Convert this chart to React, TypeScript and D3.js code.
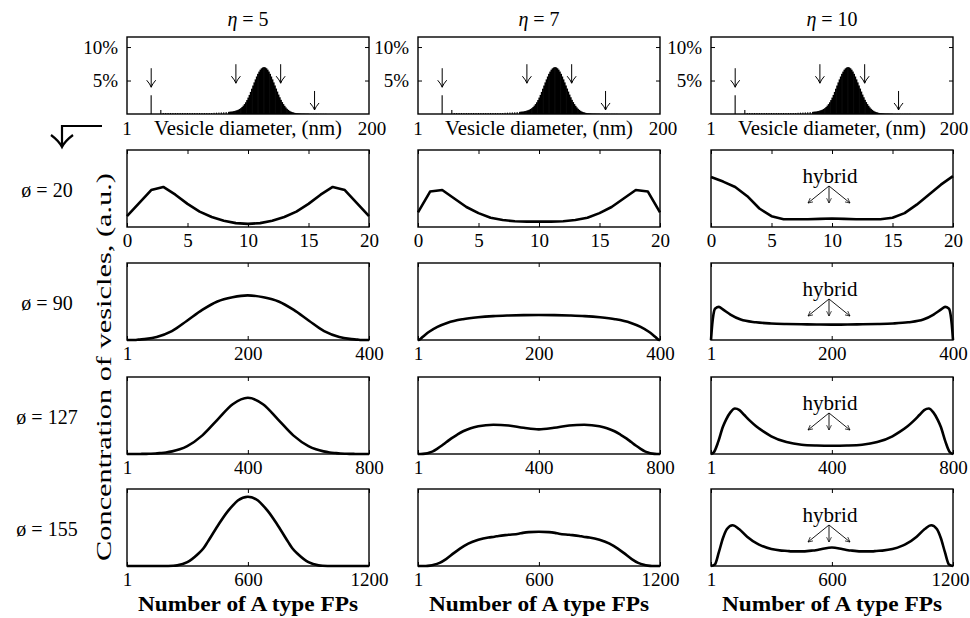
import React, { useEffect, useRef } from "react";
import * as d3 from "d3";

// column / row headings
const ETA_LABELS = ["5", "7", "10"];
const PHI_LABELS = ["20", "90", "127", "155"];
const ROW_MIN = [0, 1, 1, 1];
const ROW_MAX = [20, 400, 800, 1200];
const ROW_TICKS = [
  [0, 5, 10, 15, 20],
  [1, 200, 400],
  [1, 400, 800],
  [1, 600, 1200],
];

// vesicle diameter histogram (same in every column), % of vesicles
const HIST_D = [
  20, 28, 30, 32, 34, 36, 38, 40, 42, 44, 46, 48, 50, 52, 54, 56, 58, 60, 62, 64, 66, 68, 70, 72, 74, 76, 78, 80, 82,
  84, 85, 86, 87, 88, 89, 90, 91, 92, 93, 94, 95, 96, 97, 98, 99, 100, 101, 102, 103, 104, 105, 106, 107, 108, 109,
  110, 111, 112, 113, 114, 115, 116, 117, 118, 119, 120, 121, 122, 123, 124, 125, 126, 127, 128, 129, 130, 131, 132,
  133, 134, 135, 136, 137, 138, 139, 140, 141, 142, 143, 144, 145, 146, 147, 148, 149, 150, 152, 154, 156, 158, 160,
  162, 164,
];
const HIST_PCT = [
  2.8, 0.6, 0.15, 0.15, 0.15, 0.15, 0.15, 0.15, 0.15, 0.15, 0.15, 0.15, 0.15, 0.15, 0.15, 0.15, 0.15, 0.15, 0.15,
  0.15, 0.15, 0.15, 0.15, 0.18, 0.2, 0.22, 0.24, 0.26, 0.29,
  0.32, 0.34, 0.36, 0.38, 0.42, 0.46, 0.52, 0.58, 0.66, 0.76, 0.88, 1.05, 1.25, 1.48, 1.75, 2.08, 2.45, 2.85, 3.3,
  3.78, 4.25, 4.72, 5.17, 5.6, 6.0, 6.33, 6.62, 6.82, 6.95, 7.0, 6.96, 6.83, 6.62, 6.34, 6.0, 5.6, 5.17, 4.72, 4.26,
  3.8, 3.35, 2.9, 2.5, 2.12, 1.78, 1.48, 1.22, 0.98, 0.78, 0.62, 0.48, 0.38, 0.3, 0.24, 0.19, 0.15, 0.12, 0.1, 0.08,
  0.07, 0.06, 0.05, 0.05, 0.04, 0.04, 0.04, 0.03, 0.03, 0.03, 0.03, 0.02, 0.02, 0.02, 0.02, 0.02,
];
// arrows mark the four diameters of the rows below
const HIST_ARROW_D = [20, 90, 127, 155];
const HIST_ARROW_TIP = [4.0, 4.6, 4.6, 0.6];

// row 1 (diameter 20)
const X_PHI20 = [0, 1, 2, 3, 4, 5, 6, 7, 8, 9, 10, 11, 12, 13, 14, 15, 16, 17, 18, 19, 20];
const Y_ETA5_PHI20 = [0.14, 0.31, 0.48, 0.52, 0.42, 0.3, 0.2, 0.13, 0.08, 0.05, 0.04, 0.05, 0.08, 0.13, 0.2, 0.3, 0.42, 0.52, 0.48, 0.31, 0.14];
const Y_ETA7_PHI20 = [0.19, 0.46, 0.48, 0.37, 0.26, 0.18, 0.12, 0.09, 0.075, 0.07, 0.07, 0.07, 0.075, 0.09, 0.12, 0.18, 0.26, 0.37, 0.48, 0.46, 0.19];
const Y_ETA10_PHI20 = [0.65, 0.59, 0.52, 0.4, 0.24, 0.14, 0.1, 0.1, 0.1, 0.105, 0.11, 0.105, 0.1, 0.1, 0.1, 0.12, 0.18, 0.29, 0.42, 0.55, 0.66];

// row 2 (diameter 90)
const X_PHI90 = [1, 3, 5, 8, 14, 20, 33, 50, 75, 100, 125, 150, 175, 200, 226, 251, 276, 301, 326, 351, 368, 381, 387, 393, 396, 398, 400];
const Y_ETA5_PHI90 = [0, 0, 0, 0, 0, 0.005, 0.015, 0.04, 0.115, 0.25, 0.39, 0.5, 0.555, 0.58, 0.555, 0.5, 0.39, 0.25, 0.115, 0.04, 0.015, 0.005, 0, 0, 0, 0, 0];
const Y_ETA7_PHI90 = [0, 0.003, 0.012, 0.035, 0.075, 0.11, 0.17, 0.225, 0.27, 0.295, 0.31, 0.318, 0.323, 0.325, 0.323, 0.318, 0.31, 0.295, 0.27, 0.225, 0.17, 0.11, 0.075, 0.035, 0.012, 0.003, 0];
const Y_ETA10_PHI90 = [0, 0.2, 0.33, 0.41, 0.43, 0.4, 0.33, 0.265, 0.23, 0.215, 0.208, 0.204, 0.201, 0.2, 0.201, 0.204, 0.208, 0.215, 0.23, 0.265, 0.33, 0.4, 0.43, 0.41, 0.33, 0.2, 0];

// row 3 (diameter 127)
const X_PHI127 = [1, 10, 25, 40, 50, 65, 80, 95, 110, 130, 150, 175, 200, 250, 300, 350, 400, 450, 500, 550, 600, 625, 650, 670, 690, 705, 720, 735, 750, 760, 775, 790, 800];
const Y_ETA5_PHI127 = [0, 0, 0, 0, 0.001, 0.002, 0.004, 0.007, 0.012, 0.02, 0.034, 0.061, 0.103, 0.242, 0.447, 0.646, 0.73, 0.646, 0.447, 0.242, 0.103, 0.061, 0.034, 0.02, 0.012, 0.007, 0.004, 0.002, 0.001, 0, 0, 0, 0];
const Y_ETA7_PHI127 = [0, 0, 0.005, 0.02, 0.035, 0.07, 0.11, 0.155, 0.2, 0.25, 0.295, 0.335, 0.36, 0.38, 0.37, 0.34, 0.32, 0.34, 0.37, 0.38, 0.36, 0.335, 0.295, 0.25, 0.2, 0.155, 0.11, 0.07, 0.035, 0.02, 0.005, 0, 0];
const Y_ETA10_PHI127 = [0, 0.02, 0.16, 0.35, 0.44, 0.54, 0.59, 0.57, 0.51, 0.43, 0.36, 0.29, 0.23, 0.155, 0.12, 0.11, 0.107, 0.11, 0.12, 0.155, 0.23, 0.29, 0.36, 0.43, 0.51, 0.57, 0.59, 0.54, 0.44, 0.35, 0.16, 0.02, 0];

// row 4 (diameter 155)
const X_PHI155 = [1, 20, 40, 60, 80, 108, 140, 180, 230, 250, 300, 350, 380, 400, 450, 500, 520, 550, 600, 650, 680, 700, 750, 800, 820, 850, 900, 950, 970, 1020, 1060, 1092, 1120, 1140, 1160, 1180, 1200];
const Y_ETA5_PHI155 = [0, 0, 0, 0, 0, 0, 0, 0, 0.003, 0.008, 0.05, 0.15, 0.23, 0.31, 0.52, 0.71, 0.77, 0.85, 0.9, 0.85, 0.77, 0.71, 0.52, 0.31, 0.23, 0.15, 0.05, 0.008, 0.003, 0, 0, 0, 0, 0, 0, 0, 0];
const Y_ETA7_PHI155 = [0, 0, 0, 0.005, 0.015, 0.04, 0.09, 0.17, 0.26, 0.29, 0.34, 0.37, 0.38, 0.39, 0.405, 0.42, 0.43, 0.44, 0.445, 0.44, 0.43, 0.42, 0.405, 0.39, 0.38, 0.37, 0.34, 0.29, 0.26, 0.17, 0.09, 0.04, 0.015, 0.005, 0, 0, 0];
const Y_ETA10_PHI155 = [0, 0.02, 0.18, 0.36, 0.48, 0.53, 0.48, 0.38, 0.29, 0.265, 0.22, 0.2, 0.195, 0.19, 0.19, 0.2, 0.205, 0.22, 0.24, 0.22, 0.205, 0.2, 0.19, 0.19, 0.195, 0.2, 0.22, 0.265, 0.29, 0.38, 0.48, 0.53, 0.48, 0.36, 0.18, 0.02, 0];

const ROW_X = [X_PHI20, X_PHI90, X_PHI127, X_PHI155];
const ROW_Y = [
  [Y_ETA5_PHI20, Y_ETA7_PHI20, Y_ETA10_PHI20],
  [Y_ETA5_PHI90, Y_ETA7_PHI90, Y_ETA10_PHI90],
  [Y_ETA5_PHI127, Y_ETA7_PHI127, Y_ETA10_PHI127],
  [Y_ETA5_PHI155, Y_ETA7_PHI155, Y_ETA10_PHI155],
];
const HYBRID_COL = 2;

const FONT = '"Liberation Serif"';

export default function App() {
  const ref = useRef<SVGSVGElement | null>(null);

  useEffect(() => {
    document.body.style.margin = "0";
    const svg = d3.select(ref.current);
    svg.selectAll("*").remove();

    const W = 970;
    const colLeft = [127, 418, 711];
    const pw = 242;
    const ph = 77;
    const histTop = 37;
    const rowTop = [150, 263, 377, 489];

    const label = (g, x, y, s, size, anchor = "middle") =>
      g
        .append("text")
        .attr("x", x)
        .attr("y", y)
        .attr("text-anchor", anchor)
        .attr("font-family", FONT)
        .attr("font-size", size)
        .attr("fill", "#000")
        .text(s);

    const defs = svg.append("defs");
    defs
      .append("marker")
      .attr("id", "ah")
      .attr("viewBox", "0 0 10 10")
      .attr("refX", 9)
      .attr("refY", 5)
      .attr("markerWidth", 6)
      .attr("markerHeight", 6)
      .attr("orient", "auto")
      .append("path")
      .attr("d", "M0,0.5 L9,5 L0,9.5")
      .attr("fill", "none")
      .attr("stroke", "#000")
      .attr("stroke-width", 1.3);

    const frame = (g, x0, y0) =>
      g
        .append("rect")
        .attr("x", x0)
        .attr("y", y0)
        .attr("width", pw)
        .attr("height", ph)
        .attr("fill", "none")
        .attr("stroke", "#000")
        .attr("stroke-width", 1.4);

    ETA_LABELS.forEach((eta, c) => {
      const x0 = colLeft[c];
      const cx = x0 + pw / 2;

      // column title
      const t = label(svg, cx, 26, "", 20);
      t.append("tspan").attr("font-style", "italic").text("η");
      t.append("tspan").text(` = ${eta}`);

      // histogram
      const hx = d3.scaleLinear().domain([0, 200]).range([x0, x0 + pw]);
      const hy = d3.scaleLinear().domain([0, 11.5]).range([histTop + ph, histTop]);
      const hg = svg.append("g");
      const bw = hx(1) - hx(0);
      hg.selectAll("rect.bar")
        .data(HIST_D)
        .enter()
        .append("rect")
        .attr("class", "bar")
        .attr("x", (d) => hx(d) - bw / 2)
        .attr("width", (d) => (d > 83 ? bw + 0.6 : bw * 0.9))
        .attr("y", (d, i) => hy(HIST_PCT[i]))
        .attr("height", (d, i) => hy(0) - hy(HIST_PCT[i]))
        .attr("fill", "#000");

      HIST_ARROW_D.forEach((d, i) => {
        const ax = hx(d);
        const tip = hy(HIST_ARROW_TIP[i]);
        hg.append("path")
          .attr("d", `M${ax},${tip - 19} V${tip} M${ax - 4.5},${tip - 7} Q${ax - 1},${tip - 3} ${ax},${tip} Q${ax + 1},${tip - 3} ${ax + 4.5},${tip - 7}`)
          .attr("fill", "none")
          .attr("stroke", "#000")
          .attr("stroke-width", 1);
      });

      const yl = hg
        .append("g")
        .attr("transform", `translate(${x0},0)`)
        .call(
          d3.axisLeft(hy).tickValues([5, 10]).tickSizeInner(-4).tickSizeOuter(0).tickPadding(9).tickFormat((v) => `${v}%`)
        );
      yl.select(".domain").remove();
      yl.selectAll("text").attr("font-size", 19).attr("font-family", FONT).attr("fill", "#000");
      const yr = hg
        .append("g")
        .attr("transform", `translate(${x0 + pw},0)`)
        .call(d3.axisRight(hy).tickValues([5, 10]).tickSizeInner(-4).tickSizeOuter(0).tickFormat(() => ""));
      yr.select(".domain").remove();
      hg.selectAll(".tick line").attr("stroke-width", 1);

      frame(hg, x0, histTop);

      label(hg, x0, 135, "1", 19);
      label(hg, Math.min(x0 + pw + 3, W - 16), 135, "200", 19);
      label(hg, cx, 135, "Vesicle diameter, (nm)", 20)
        .attr("textLength", 188)
        .attr("lengthAdjust", "spacingAndGlyphs");

      // distribution panels
      rowTop.forEach((y0, r) => {
        const g = svg.append("g");
        const x = d3.scaleLinear().domain([ROW_MIN[r], ROW_MAX[r]]).range([x0, x0 + pw]);
        const y = d3.scaleLinear().domain([0, 1]).range([y0 + ph, y0]);

        const bx = g
          .append("g")
          .attr("transform", `translate(0,${y0 + ph})`)
          .call(d3.axisBottom(x).tickValues(ROW_TICKS[r]).tickSizeInner(-4).tickSizeOuter(0).tickPadding(7).tickFormat(d3.format("d")));
        bx.select(".domain").remove();
        bx.selectAll("text").attr("font-size", 19).attr("font-family", FONT).attr("fill", "#000");
        // keep the last label of the right-most column inside the page
        if (c === ETA_LABELS.length - 1) {
          bx.selectAll(".tick")
            .filter((v) => v === ROW_MAX[r] && String(v).length > 3)
            .select("text")
            .attr("text-anchor", "end")
            .attr("x", W - 1 - x(ROW_MAX[r]));
        }
        const tx = g
          .append("g")
          .attr("transform", `translate(0,${y0})`)
          .call(d3.axisTop(x).tickValues(ROW_TICKS[r]).tickSizeInner(-4).tickSizeOuter(0).tickFormat(() => ""));
        tx.select(".domain").remove();
        g.selectAll(".tick line").attr("stroke-width", 1);

        const xs = ROW_X[r];
        const ys = ROW_Y[r][c];
        const line = d3
          .line<number>()
          .x((d) => x(d))
          .y((d, i) => y(ys[i]))
          .curve(r === 0 ? d3.curveLinear : d3.curveMonotoneX);
        g.append("path")
          .attr("d", line(xs))
          .attr("fill", "none")
          .attr("stroke", "#000")
          .attr("stroke-width", 2.6)
          .attr("stroke-linejoin", "round");

        frame(g, x0, y0);

        if (c === HYBRID_COL) {
          const hxC = cx - 3;
          label(g, hxC + 1, y0 + 33, "hybrid", 21).attr("textLength", 55).attr("lengthAdjust", "spacingAndGlyphs");
          [-21, 0, 21].forEach((dx) =>
            g
              .append("line")
              .attr("x1", hxC)
              .attr("y1", y0 + 36)
              .attr("x2", hxC + dx)
              .attr("y2", y0 + 53)
              .attr("stroke", "#000")
              .attr("stroke-width", 0.9)
              .attr("marker-end", "url(#ah)")
          );
        }
      });

      label(svg, cx, 611, "Number of A type FPs", 21)
        .attr("font-weight", "bold")
        .attr("textLength", 220)
        .attr("lengthAdjust", "spacingAndGlyphs");
    });

    // row labels
    PHI_LABELS.forEach((p, r) => {
      label(svg, 47, rowTop[r] + ph / 2 + 8, `ø = ${p}`, 20);
    });

    // y axis title
    label(svg, 0, 0, "Concentration of vesicles, (a.u.)", 21)
      .attr("transform", "translate(111,367) rotate(-90)")
      .attr("textLength", 388)
      .attr("lengthAdjust", "spacingAndGlyphs");

    // bent arrow from histogram to rows
    svg
      .append("path")
      .attr("d", "M102,126 H62 V146 M51,135 Q59,141 62,147 Q65,141 73,135")
      .attr("fill", "none")
      .attr("stroke", "#000")
      .attr("stroke-width", 2.2);
  }, []);

  return <svg ref={ref} width={970} height={618} style={{ display: "block", background: "#fff" }} />;
}
